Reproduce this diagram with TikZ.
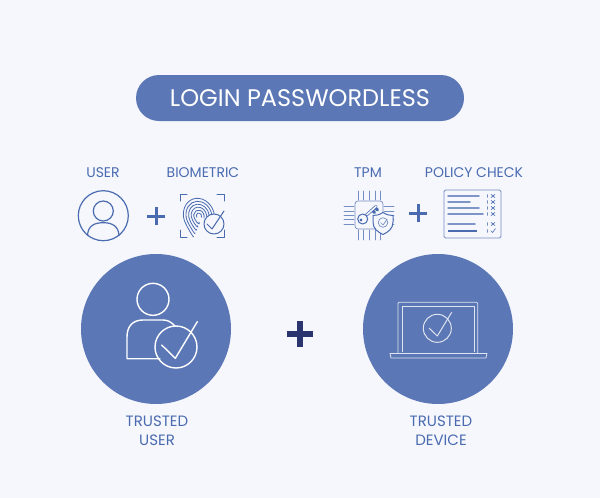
\documentclass[tikz,border=0pt]{standalone}
\usepackage{fontspec}
\setmainfont{Poppins}
\usepackage{xcolor}
\definecolor{page-bg}{HTML}{F6F7FD}
\definecolor{disc-blue}{HTML}{5B77B5}
\definecolor{icon-blue}{HTML}{4A6BB0}
\definecolor{plus-navy}{HTML}{2A3570}
\tikzset{
    pill-box/.style = {fill=disc-blue, text=white, rectangle, rounded corners=23pt, minimum width=328pt, minimum height=46pt, font=\fontsize{24}{28}\selectfont, inner sep=0pt},
    big-disc/.style = {fill=disc-blue, circle, minimum size=150pt, inner sep=0pt},
    icon-label/.style = {text=icon-blue, font=\fontsize{14}{16}\selectfont, inner sep=0pt},
    disc-label/.style = {text=icon-blue, font=\fontsize{15}{19}\selectfont, align=center, inner sep=0pt},
    white-line/.style = {draw=white, line width=1.4pt, line join=round, line cap=round},
    thin-white/.style = {draw=white!80!disc-blue, line width=0.8pt, line join=round},
    icon-line/.style = {draw=icon-blue, line width=1pt, line join=round, line cap=round},
    soft-line/.style = {draw=icon-blue!75!page-bg, line width=0.7pt, line join=round, line cap=round},
    plus-bar/.style = {line width=3pt, draw=icon-blue},
}

\begin{document}
\begin{tikzpicture}[x=1pt, y=-1pt]
\useasboundingbox[fill=page-bg] (0,0) rectangle (600,498);

\node [pill-box] (title) at (300,98) {LOGIN PASSWORDLESS};

\node [icon-label] (user-label) at (103,172.5) {USER};
\node [icon-label] (bio-label) at (203,172.5) {BIOMETRIC};
\node [icon-label] (tpm-label) at (368,172.5) {TPM};
\node [icon-label] (policy-label) at (474,172.5) {POLICY CHECK};

% small user
\draw [icon-line, line width=1.2pt] (103.3,215.7) circle (25);
\draw [icon-line, line width=1.2pt] (103.3,211) circle (10);
\draw [icon-line, line width=1.2pt] (87.5,235.5) .. controls (88,226) and (94,222.7) .. (103.3,222.7) .. controls (112,222.7) and (118.5,226) .. (119,235.5);
\draw [plus-bar] (147,216) -- (165,216) (156,207) -- (156,225);

% fingerprint
\begin{scope}[shift={(199,216)}, rotate=20]
\foreach \rad in {3,6,9,12,15,18}
    \draw [icon-line, line width=0.8pt] (170:\rad*0.85 and \rad) arc (170:400:\rad*0.85 and \rad);
\foreach \rad in {6,9,12,15,18}
    \draw [icon-line, line width=0.8pt] (170:\rad*0.85 and \rad) .. controls +(0.5,5) and +(0,4) .. +(3,\rad*0.8);
\end{scope}
\foreach \cx/\cy/\dx/\dy in {180/194/1/1, 224/194/-1/1, 180/237/1/-1, 224/237/-1/-1}
    \draw [icon-line] (\cx+7*\dx,\cy) -- (\cx,\cy) -- (\cx,\cy+7*\dy);
\fill [page-bg] (214,224) circle (10);
\draw [icon-line] (214,224) circle (10);
\draw [icon-line] (207,224) -- (212,229) -- (224,211);

% chip
\draw [soft-line, rounded corners=3pt] (355,201) rectangle (383,229);
\foreach \px in {358,363,369,375,380} {
    \draw [soft-line] (\px,191) -- (\px,200);
    \draw [soft-line] (\px,230) -- (\px,240);
}
\foreach \py in {206,211,215,219,224} {
    \draw [soft-line] (344,\py) -- (354,\py);
    \draw [soft-line] (384,\py) -- (394,\py);
}
\draw [icon-blue, line width=3pt, line cap=round] (366,215.5) -- (376,206.5) (372,210) -- (374.5,212.5) (375,207.5) -- (377.5,210);
\draw [page-bg, line width=1.5pt, line cap=round] (366,215.5) -- (376,206.5);
\draw [icon-line, fill=page-bg] (362.7,219) circle (5);
\draw [icon-line] (361,220) circle (1);
\fill [page-bg] (383,212.5) .. controls (387,215) and (390,215.5) .. (393,215.5) -- (393,222) .. controls (393,229) and (388,232) .. (383,234.5) .. controls (378,232) and (373,229) .. (373,222) -- (373,215.5) .. controls (376,215.5) and (379,215) .. (383,212.5) -- cycle;
\draw [icon-line] (383,212.5) .. controls (387,215) and (390,215.5) .. (393,215.5) -- (393,222) .. controls (393,229) and (388,232) .. (383,234.5) .. controls (378,232) and (373,229) .. (373,222) -- (373,215.5) .. controls (376,215.5) and (379,215) .. (383,212.5) -- cycle;
\draw [soft-line] (383,222.5) circle (4.8);
\draw [soft-line] (380.5,222.5) -- (383,225) -- (387,219.5);
\draw [plus-bar] (409,213) -- (427,213) (418,204) -- (418,222);

% policy sheet
\draw [soft-line, line width=0.9pt, rounded corners=1.5pt] (444,190) rectangle (501,238);
\foreach \rowy/\rowx in {196/479, 202/470, 208/479, 214/483, 224/475} {
    \draw [icon-line, line width=1.5pt, draw=icon-blue!70!page-bg] (448,\rowy) -- (\rowx,\rowy);
    \draw [icon-line, line width=0.6pt] (491,\rowy-1.7) -- (495,\rowy+1.7) (491,\rowy+1.7) -- (495,\rowy-1.7);
    \draw [soft-line, line width=0.4pt] (487.5,\rowy-1.5) -- (487.5,\rowy+1.5);
}
\draw [icon-blue, line width=2.8pt] (448,231) -- (477,231);
\draw [icon-line, line width=0.6pt] (491,231) -- (492.5,232.5) -- (495.5,228.5);
\draw [soft-line, line width=0.4pt] (487.5,229.5) -- (487.5,232.5);

% big discs
\node [big-disc] (user-disc) at (156,329) {};
\node [big-disc] (device-disc) at (438,329) {};
\draw [plus-navy, line width=6pt] (287,334) -- (313,334) (300,321) -- (300,347);

% trusted user
\draw [white-line] (153,299.3) circle (16);
\draw [white-line] (160,358.7) -- (127,358.7) -- (127,337) .. controls (127,326) and (133,320) .. (143,320) -- (163,320) .. controls (168,320) and (171,322) .. (175,326);
\draw [white-line] (176,347) circle (21);
\draw [white-line] (161.7,345) -- (175.3,358.3) -- (197.3,321.7);

% trusted device
\draw [thin-white, rounded corners=1pt] (398,353) -- (398,302.3) -- (477.7,302.3) -- (477.7,353);
\draw [thin-white] (402,352) -- (402,306) -- (474,306) -- (474,352);
\draw [thin-white] (390,353.5) -- (487,353.5) -- (486,358) -- (391,358) -- cycle;
\draw [thin-white, line width=1pt] (437.3,328.3) circle (14);
\draw [thin-white, line width=1pt] (429,328) -- (437.3,336) -- (451.7,312.3);

\node [disc-label] (user-caption) at (157,430.5) {TRUSTED\\USER};
\node [disc-label] (device-caption) at (441,430.5) {TRUSTED\\DEVICE};
\end{tikzpicture}
\end{document}
